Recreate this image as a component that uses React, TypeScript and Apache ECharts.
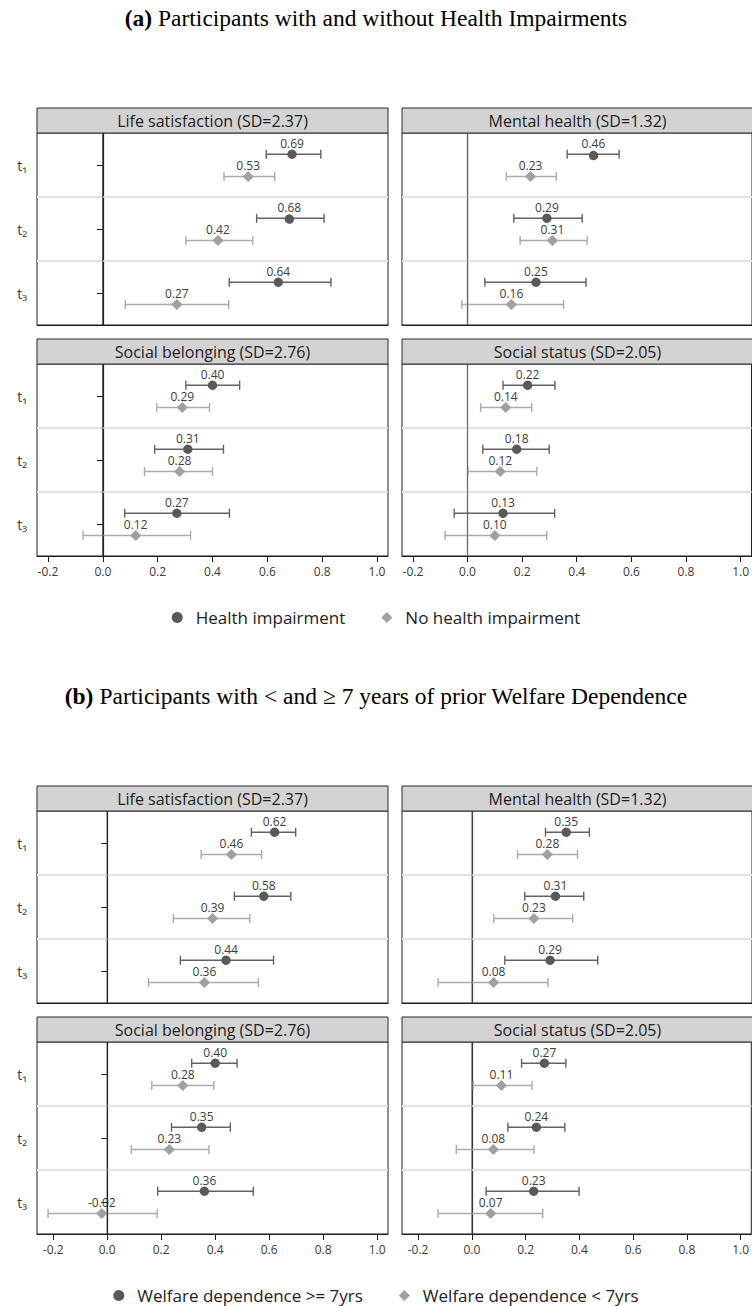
import React, { useEffect, useRef } from "react";
import * as echarts from "echarts";

// Waves shown on every facet
const waves = ["t\u2081", "t\u2082", "t\u2083"];

// Tick values of the effect-size axis
const xTicks = [-0.2, 0, 0.2, 0.4, 0.6, 0.8, 1.0];

// Facet titles
const outcomes = [
  "Life satisfaction (SD=2.37)",
  "Mental health (SD=1.32)",
  "Social belonging (SD=2.76)",
  "Social status (SD=2.05)",
];

// Group names per panel
const groupsA = ["Health impairment", "No health impairment"];
const groupsB = ["Welfare dependence >= 7yrs", "Welfare dependence < 7yrs"];

// Each row: [estimate, lower 95% bound, upper 95% bound] for t1, t2, t3
// Panel (a): health impairment
const aLifeImpaired = [[0.69, 0.596, 0.795], [0.68, 0.561, 0.807], [0.64, 0.461, 0.832]];
const aLifeHealthy = [[0.53, 0.442, 0.627], [0.42, 0.303, 0.547], [0.27, 0.082, 0.459]];
const aMentalImpaired = [[0.46, 0.364, 0.554], [0.29, 0.169, 0.419], [0.25, 0.063, 0.433]];
const aMentalHealthy = [[0.23, 0.141, 0.324], [0.31, 0.192, 0.437], [0.16, -0.021, 0.351]];
const aBelongImpaired = [[0.40, 0.303, 0.499], [0.31, 0.189, 0.44], [0.27, 0.08, 0.462]];
const aBelongHealthy = [[0.29, 0.197, 0.389], [0.28, 0.152, 0.40], [0.12, -0.072, 0.32]];
const aStatusImpaired = [[0.22, 0.13, 0.32], [0.18, 0.056, 0.299], [0.13, -0.049, 0.319]];
const aStatusHealthy = [[0.14, 0.048, 0.235], [0.12, 0.002, 0.254], [0.10, -0.082, 0.29]];

// Panel (b): years of prior welfare dependence
const bLifeLong = [[0.62, 0.534, 0.698], [0.58, 0.471, 0.68], [0.44, 0.271, 0.616]];
const bLifeShort = [[0.46, 0.348, 0.572], [0.39, 0.245, 0.528], [0.36, 0.153, 0.56]];
const bMentalLong = [[0.35, 0.273, 0.436], [0.31, 0.196, 0.415], [0.29, 0.122, 0.467]];
const bMentalShort = [[0.28, 0.169, 0.392], [0.23, 0.081, 0.374], [0.08, -0.126, 0.282]];
const bBelongLong = [[0.40, 0.313, 0.481], [0.35, 0.238, 0.456], [0.36, 0.187, 0.541]];
const bBelongShort = [[0.28, 0.165, 0.395], [0.23, 0.089, 0.377], [-0.02, -0.219, 0.185]];
const bStatusLong = [[0.27, 0.185, 0.35], [0.24, 0.134, 0.346], [0.23, 0.053, 0.399]];
const bStatusShort = [[0.11, 0.005, 0.224], [0.08, -0.058, 0.231], [0.07, -0.126, 0.264]];

const SANS = '"Open Sans", "Noto Sans", "DejaVu Sans", sans-serif';
const SERIF = '"Liberation Serif", "DejaVu Serif", serif';

const DARK_POINT = "#595959";
const LIGHT_POINT = "#a0a0a0";
const DARK_BAR = "#626262";
const LIGHT_BAR = "#ababab";

const panels = [
  {
    groups: groupsA,
    facets: [
      [aLifeImpaired, aLifeHealthy],
      [aMentalImpaired, aMentalHealthy],
      [aBelongImpaired, aBelongHealthy],
      [aStatusImpaired, aStatusHealthy],
    ],
    xMin: -0.24,
    xMax: 1.04,
    headerTops: [108, 339],
    title: "{b|(a)} Participants with and without Health Impairments",
    titleTop: 6,
    legendTop: 604,
  },
  {
    groups: groupsB,
    facets: [
      [bLifeLong, bLifeShort],
      [bMentalLong, bMentalShort],
      [bBelongLong, bBelongShort],
      [bStatusLong, bStatusShort],
    ],
    xMin: -0.26,
    xMax: 1.04,
    headerTops: [786, 1017],
    title: "{b|(b)} Participants with < and \u2265 7 years of prior Welfare Dependence",
    titleTop: 684,
    legendTop: 1282,
  },
];

const COL_LEFT = [37, 402];
const FACET_W = 351;
const HEADER_H = 25;
const PLOT_H = 192;

function makeRenderItem(group: number, drawFrame: boolean, zeroColor: string) {
  const offset = group === 0 ? -0.168 : 0.18;
  const barColor = group === 0 ? DARK_BAR : LIGHT_BAR;
  const pointColor = group === 0 ? DARK_POINT : LIGHT_POINT;
  return (params: any, api: any) => {
    const est = api.value(0);
    const lo = api.value(1);
    const hi = api.value(2);
    const row = api.value(3);
    const band = api.size([0, 1])[1];
    const c = api.coord([est, row]);
    const y = c[1] + offset * band;
    const xl = api.coord([lo, row])[0];
    const xh = api.coord([hi, row])[0];
    const children: any[] = [];

    if (drawFrame && params.dataIndex === 0) {
      const cs = params.coordSys;
      // light separators between the waves
      for (let k = 0; k < waves.length - 1; k++) {
        const yb = api.coord([0, k])[1] + band / 2;
        children.push({
          type: "line",
          shape: { x1: cs.x, y1: yb, x2: cs.x + cs.width, y2: yb },
          style: { stroke: "#e2e2e2", lineWidth: 2 },
        });
      }
      // reference line at zero
      const x0 = api.coord([0, 0])[0];
      children.push({
        type: "line",
        shape: { x1: x0, y1: cs.y, x2: x0, y2: cs.y + cs.height },
        style: { stroke: zeroColor, lineWidth: 1 },
      });
    }

    const cap = 4.5;
    children.push(
      { type: "line", shape: { x1: xl, y1: y, x2: xh, y2: y }, style: { stroke: barColor, lineWidth: 1.4 } },
      { type: "line", shape: { x1: xl, y1: y - cap, x2: xl, y2: y + cap }, style: { stroke: barColor, lineWidth: 1.4 } },
      { type: "line", shape: { x1: xh, y1: y - cap, x2: xh, y2: y + cap }, style: { stroke: barColor, lineWidth: 1.4 } }
    );
    if (group === 0) {
      children.push({ type: "circle", shape: { cx: c[0], cy: y, r: 4.7 }, style: { fill: pointColor } });
    } else {
      const s = 5.6;
      children.push({
        type: "polygon",
        shape: { points: [[c[0], y - s], [c[0] + s, y], [c[0], y + s], [c[0] - s, y]] },
        style: { fill: pointColor },
      });
    }
    children.push({
      type: "text",
      x: c[0],
      y: y - 11,
      style: {
        text: est.toFixed(2),
        fill: "#3c3c3c",
        fontSize: 12,
        fontFamily: SANS,
        align: "center",
        verticalAlign: "middle",
      },
    });
    return { type: "group", children };
  };
}

function buildOption() {
  const grid: any[] = [];
  const xAxis: any[] = [];
  const yAxis: any[] = [];
  const series: any[] = [];
  const graphic: any[] = [];
  const title: any[] = [];
  const legend: any[] = [];

  panels.forEach((p) => {
    title.push({
      text: p.title,
      left: "center",
      top: p.titleTop,
      padding: 0,
      textStyle: {
        fontFamily: SERIF,
        fontSize: 23.5,
        fontWeight: "normal",
        color: "#000",
        rich: { b: { fontFamily: SERIF, fontSize: 23.5, fontWeight: "bold", color: "#000" } },
      },
    });
    legend.push({
      left: "center",
      top: p.legendTop,
      selectedMode: false,
      itemWidth: 11,
      itemHeight: 11,
      itemGap: 36,
      textStyle: { fontFamily: SANS, fontSize: 17, color: "#222", padding: [0, 0, 0, 8] },
      data: [
        { name: p.groups[0], icon: "circle", itemStyle: { color: DARK_POINT } },
        { name: p.groups[1], icon: "diamond", itemStyle: { color: LIGHT_POINT } },
      ],
    });

    p.facets.forEach((pair, fi) => {
      const col = fi % 2;
      const rowIdx = Math.floor(fi / 2);
      const idx = grid.length;
      const headerTop = p.headerTops[rowIdx];
      const plotTop = headerTop + HEADER_H;
      const left = COL_LEFT[col];
      const isBottom = rowIdx === 1;
      const isLeft = col === 0;

      grid.push({
        left,
        top: plotTop,
        width: FACET_W,
        height: PLOT_H,
        show: true,
        borderColor: "#1c1c1c",
        borderWidth: 1,
        backgroundColor: "#fff",
      });
      xAxis.push({
        type: "value",
        gridIndex: idx,
        min: p.xMin,
        max: p.xMax,
        axisLine: { show: true, onZero: false, lineStyle: { color: "#1c1c1c", width: 1 } },
        axisTick: {
          show: isBottom,
          length: 6,
          customValues: xTicks,
          lineStyle: { color: "#1c1c1c" },
        },
        axisLabel: {
          show: isBottom,
          customValues: xTicks,
          margin: 9,
          fontFamily: SANS,
          fontSize: 12,
          color: "#3a3a3a",
          formatter: (v: number) => v.toFixed(1),
        },
        splitLine: { show: false },
      });
      yAxis.push({
        type: "category",
        gridIndex: idx,
        data: waves,
        inverse: true,
        axisLine: { show: true, lineStyle: { color: "#1c1c1c", width: 1.2 } },
        axisTick: { show: isLeft, alignWithLabel: true, length: 6, lineStyle: { color: "#1c1c1c" } },
        axisLabel: {
          show: isLeft,
          margin: 10,
          fontFamily: SANS,
          fontSize: 14,
          color: "#3a3a3a",
        },
        splitLine: { show: false },
      });

      pair.forEach((vals, g) => {
        series.push({
          type: "custom",
          name: p.groups[g],
          xAxisIndex: idx,
          yAxisIndex: idx,
          itemStyle: { color: g === 0 ? DARK_POINT : LIGHT_POINT },
          encode: { x: [0, 1, 2], y: 3 },
          data: vals.map((d, i) => [d[0], d[1], d[2], i]),
          renderItem: makeRenderItem(g, g === 0, isLeft ? "#2a2a2a" : "#6e6e6e"),
          clip: false,
          z: g === 0 ? 3 : 2,
        });
      });

      // strip header above the facet
      graphic.push({
        type: "rect",
        shape: { x: left, y: headerTop, width: FACET_W, height: HEADER_H },
        style: { fill: "#d3d3d3", stroke: "#2a2a2a", lineWidth: 1 },
        z: 10,
      });
      graphic.push({
        type: "text",
        x: left + FACET_W / 2,
        y: headerTop + HEADER_H / 2 + 0.5,
        style: {
          text: outcomes[fi],
          fill: "#1e1e1e",
          fontSize: 16,
          fontFamily: SANS,
          align: "center",
          verticalAlign: "middle",
        },
        z: 11,
      });
    });
  });

  return {
    animation: false,
    backgroundColor: "#fff",
    title,
    legend,
    grid,
    xAxis,
    yAxis,
    series,
    graphic,
  };
}

export default function App() {
  const ref = useRef<HTMLDivElement>(null);
  useEffect(() => {
    if (!ref.current) return;
    const chart = echarts.init(ref.current, undefined, { renderer: "svg" });
    chart.setOption(buildOption() as any);
    return () => chart.dispose();
  }, []);
  return (
    <div
      ref={ref}
      style={{ position: "absolute", left: 0, top: 0, width: 752, height: 1306, background: "#fff" }}
    />
  );
}
